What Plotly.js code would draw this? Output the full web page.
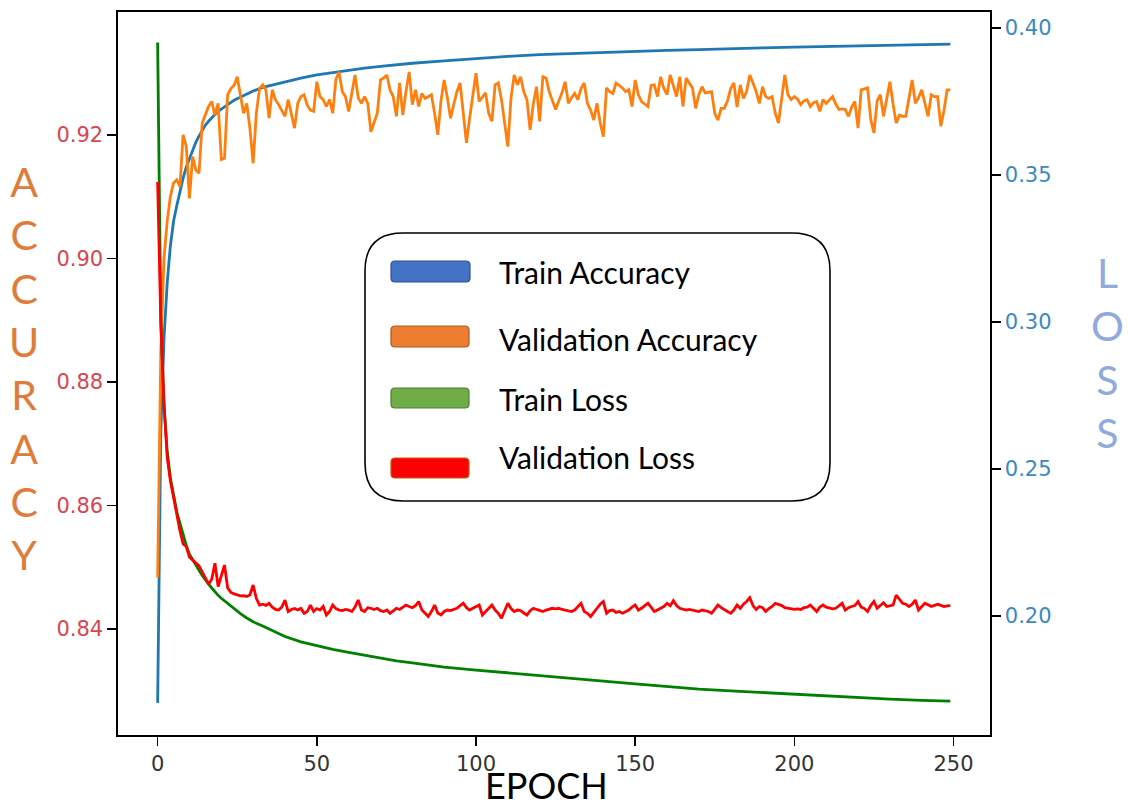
<!DOCTYPE html>
<html>
<head>
<meta charset="utf-8">
<script src="https://cdn.plot.ly/plotly-3.0.1.min.js"></script>
<style>html,body{margin:0;padding:0;background:#fff;}#chart{width:1128px;height:808px;}</style>
</head>
<body>
<div id="chart"></div>
<script>
// ---------------- DATA ----------------
const xTicks = [0, 50, 100, 150, 200, 250];
const accTicks = [0.84, 0.86, 0.88, 0.90, 0.92];
const lossTicks = [0.20, 0.25, 0.30, 0.35, 0.40];

const seriesNames = ["Train Accuracy", "Validation Accuracy", "Train Loss", "Validation Loss"];

// epochs at which the smooth training curves were read
const trainEpochs = [0,1,2,3,4,5,6,7,8,9,10,11,12,13,14,15,16,17,18,19,20,
  22,24,26,28,30,33,36,40,45,50,55,60,65,70,75,80,
  90,100,110,120,130,140,150,160,170,180,190,200,210,220,230,240,249];

const trainAcc = [0.828,0.872,0.887,0.896,0.902,0.906,0.9085,0.911,0.913,0.9148,0.9162,0.9175,0.9188,0.9198,0.9208,0.9216,0.9222,0.9228,0.9233,0.9238,0.9242,
  0.9249,0.9256,0.9261,0.9266,0.9271,0.9277,0.9281,0.9286,0.9292,0.9297,0.9301,0.9305,0.9308,0.9311,0.9314,0.9316,
  0.9320,0.9324,0.9327,0.9330,0.9332,0.9334,0.9336,0.9337,0.9338,0.9340,0.9341,0.9342,0.9343,0.9344,0.9345,0.9346,0.9347];

const trainLoss = [0.395,0.300,0.272,0.256,0.247,0.2405,0.2355,0.2316,0.2275,0.2240,0.2210,0.2190,0.2172,0.2155,0.2138,0.2122,0.2108,0.2095,0.2082,0.2070,0.2060,
  0.2042,0.2026,0.2008,0.1993,0.1980,0.1966,0.1950,0.1930,0.1912,0.1898,0.1886,0.1876,0.1866,0.1856,0.1847,0.1840,
  0.1826,0.1816,0.1806,0.1796,0.1787,0.1778,0.1769,0.1759,0.1751,0.1745,0.1739,0.1734,0.1728,0.1722,0.1717,0.1713,0.1710];

// validation curves, one value per epoch 0..249
const valAcc = [
  0.8483,0.885,0.900,0.906,0.910,0.9122,0.9127,0.9116,0.9200,0.9181,
  0.9097,0.9165,0.9143,0.9138,0.9219,0.9232,0.9246,0.9254,0.9232,0.9251,
  0.9160,0.9162,0.9265,0.9275,0.9280,0.9294,0.9267,0.9235,0.9251,0.9210,
  0.9154,0.9235,0.9275,0.9281,0.9273,0.9227,0.9273,0.9257,0.9249,0.9240,
  0.9230,0.9257,0.9235,0.9211,0.9251,0.9262,0.9265,0.9248,0.9240,0.9238,
  0.9286,0.9262,0.9257,0.9246,0.9257,0.9235,0.9290,0.9302,0.9270,0.9262,
  0.9238,0.9265,0.9297,0.9260,0.9251,0.9262,0.9251,0.9205,0.9222,0.9235,
  0.9289,0.9292,0.9297,0.9273,0.9262,0.9230,0.9284,0.9232,0.9270,0.9302,
  0.9249,0.9273,0.9246,0.9267,0.9259,0.9262,0.9265,0.9235,0.9200,0.9255,
  0.9289,0.9260,0.9227,0.9249,0.9270,0.9284,0.9230,0.9187,0.9227,0.9260,
  0.9300,0.9254,0.9262,0.9268,0.9235,0.9222,0.9281,0.9284,0.9257,0.9220,
  0.9181,0.9260,0.9297,0.9281,0.9294,0.9270,0.9257,0.9208,0.9250,0.9278,
  0.9222,0.9294,0.9292,0.9270,0.9257,0.9241,0.9255,0.9268,0.9286,0.9251,
  0.9260,0.9267,0.9257,0.9275,0.9284,0.9251,0.9240,0.9224,0.9251,0.9220,
  0.9197,0.9276,0.9270,0.9267,0.9284,0.9280,0.9276,0.9270,0.9273,0.9246,
  0.9289,0.9265,0.9254,0.9250,0.9246,0.9280,0.9281,0.9262,0.9294,0.9275,
  0.9265,0.9297,0.9280,0.9262,0.9294,0.9246,0.9292,0.9285,0.9276,0.9243,
  0.9265,0.9278,0.9268,0.9269,0.9270,0.9235,0.9224,0.9243,0.9243,0.9255,
  0.9275,0.9284,0.9245,0.9281,0.9259,0.9270,0.9297,0.9284,0.9270,0.9251,
  0.9278,0.9262,0.9259,0.9262,0.9235,0.9219,0.9260,0.9297,0.9265,0.9257,
  0.9262,0.9258,0.9249,0.9255,0.9257,0.9246,0.9252,0.9254,0.9238,0.9257,
  0.9251,0.9256,0.9262,0.9250,0.9241,0.9242,0.9241,0.9230,0.9245,0.9254,
  0.9211,0.9273,0.9275,0.9276,0.9225,0.9203,0.9255,0.9265,0.9230,0.9260,
  0.9286,0.9250,0.9219,0.9232,0.9230,0.9230,0.9260,0.9289,0.9251,0.9260,
  0.9273,0.9250,0.9230,0.9265,0.9262,0.9262,0.9214,0.9240,0.9273,0.9273];

const valLoss = [
  0.3476,0.300,0.272,0.254,0.246,0.240,0.234,0.229,0.2245,0.2236,
  0.2200,0.2190,0.2182,0.2170,0.2150,0.2128,0.2108,0.2125,0.2179,0.2100,
  0.2140,0.2173,0.2095,0.2080,0.2075,0.2072,0.2068,0.2069,0.2066,0.2072,
  0.2105,0.2060,0.2037,0.2040,0.2036,0.2043,0.2030,0.2022,0.2020,0.2030,
  0.2054,0.2015,0.2022,0.2025,0.2020,0.2026,0.2009,0.2015,0.2037,0.2015,
  0.2025,0.2020,0.2032,0.2003,0.2015,0.2037,0.2025,0.2020,0.2018,0.2022,
  0.2020,0.2015,0.2030,0.2054,0.2020,0.2015,0.2028,0.2026,0.2022,0.2026,
  0.2018,0.2015,0.2020,0.2009,0.2018,0.2026,0.2022,0.2030,0.2037,0.2032,
  0.2028,0.2035,0.2049,0.2020,0.2010,0.1998,0.2015,0.2037,0.2010,0.2003,
  0.2015,0.2020,0.2018,0.2022,0.2026,0.2035,0.2043,0.2028,0.2020,0.2026,
  0.2032,0.2037,0.2003,0.2015,0.2026,0.2037,0.2020,0.2009,0.1992,0.2020,
  0.2043,0.2025,0.2015,0.2020,0.2018,0.2010,0.2003,0.2018,0.2026,0.2022,
  0.2018,0.2015,0.2020,0.2022,0.2026,0.2024,0.2026,0.2022,0.2020,0.2018,
  0.2015,0.2020,0.2032,0.2043,0.2015,0.2009,0.1998,0.2012,0.2026,0.2040,
  0.2049,0.2009,0.2018,0.2020,0.2012,0.2015,0.2009,0.2015,0.2020,0.2030,
  0.2037,0.2020,0.2026,0.2035,0.2043,0.2030,0.2015,0.2020,0.2026,0.2032,
  0.2043,0.2035,0.2052,0.2035,0.2026,0.2022,0.2020,0.2022,0.2020,0.2018,
  0.2015,0.2020,0.2018,0.2015,0.2009,0.2025,0.2037,0.2028,0.2020,0.2015,
  0.2009,0.2020,0.2037,0.2026,0.2040,0.2049,0.2062,0.2035,0.2022,0.2032,
  0.2028,0.2015,0.2025,0.2032,0.2043,0.2040,0.2035,0.2028,0.2026,0.2024,
  0.2022,0.2024,0.2022,0.2028,0.2030,0.2037,0.2025,0.2015,0.2030,0.2037,
  0.2030,0.2028,0.2024,0.2026,0.2035,0.2043,0.2020,0.2028,0.2032,0.2035,
  0.2049,0.2030,0.2025,0.2015,0.2035,0.2049,0.2026,0.2035,0.2045,0.2032,
  0.2035,0.2037,0.2071,0.2055,0.2043,0.2040,0.2032,0.2040,0.2054,0.2020,
  0.2030,0.2043,0.2038,0.2032,0.2036,0.2040,0.2036,0.2032,0.2034,0.2035];

const valEpochs = valAcc.map((_, i) => i);

// ---------------- STYLE / LAYOUT ----------------
const lineColors = ["#1f77b4", "#ff7f0e", "#008000", "#ff0000"];
const swatchFill = ["#4472C4", "#ED7D31", "#70AD47", "#FF0000"];
const swatchLine = ["#2F528F", "#AE5A21", "#507E32", "#C55A11"];

const L = 118, R = 990, T = 12, B = 735;
const px = x => (x - L) / (R - L);
const py = y => (B - y) / (B - T);

function roundRect(x0, y0, x1, y1, r) {
  const P = (x, y) => px(x).toFixed(5) + "," + py(y).toFixed(5);
  return "M" + P(x0 + r, y0) + " L" + P(x1 - r, y0) + " Q" + P(x1, y0) + " " + P(x1, y0 + r) +
    " L" + P(x1, y1 - r) + " Q" + P(x1, y1) + " " + P(x1 - r, y1) +
    " L" + P(x0 + r, y1) + " Q" + P(x0, y1) + " " + P(x0, y1 - r) +
    " L" + P(x0, y0 + r) + " Q" + P(x0, y0) + " " + P(x0 + r, y0) + " Z";
}

const LW = 2.8;
const traces = [
  {x: trainEpochs, y: trainAcc, name: seriesNames[0], yaxis: "y", line: {color: lineColors[0], width: LW}},
  {x: valEpochs, y: valAcc, name: seriesNames[1], yaxis: "y", line: {color: lineColors[1], width: LW}},
  {x: trainEpochs, y: trainLoss, name: seriesNames[2], yaxis: "y2", line: {color: lineColors[2], width: LW}},
  {x: valEpochs, y: valLoss, name: seriesNames[3], yaxis: "y2", line: {color: lineColors[3], width: LW}}
].map(t => Object.assign({type: "scatter", mode: "lines", showlegend: false, hoverinfo: "skip"}, t));

// custom legend box (rounded)
const legendBox = [365, 233, 830, 501];
const swatchRows = [[391, 261, 470, 282], [391, 326, 469, 347], [391, 388, 469, 408], [391, 458, 469, 478]];
const legendTextY = [272, 339, 399, 457];

const shapes = [{
  type: "path", xref: "paper", yref: "paper",
  path: roundRect(legendBox[0], legendBox[1], legendBox[2], legendBox[3], 38),
  line: {color: "#000", width: 1.6}, fillcolor: "rgba(255,255,255,1)", layer: "above"
}];
swatchRows.forEach((s, i) => shapes.push({
  type: "path", xref: "paper", yref: "paper",
  path: roundRect(s[0], s[1], s[2], s[3], 4),
  line: {color: swatchLine[i], width: 1.2}, fillcolor: swatchFill[i], layer: "above"
}));

const annotations = [];
seriesNames.forEach((n, i) => annotations.push({
  xref: "paper", yref: "paper", x: px(497), y: py(legendTextY[i]),
  xanchor: "left", yanchor: "middle", showarrow: false, text: n,
  font: {family: "Lato, 'Open Sans', sans-serif", size: 30, color: "#000"}
}));
annotations.push({
  xref: "paper", yref: "paper", x: px(24), y: py(368), xanchor: "center", yanchor: "middle",
  showarrow: false, text: "A<br>C<br>C<br>U<br>R<br>A<br>C<br>Y",
  font: {family: "Lato, 'Open Sans', sans-serif", size: 41, color: "#E07B39"}
});
annotations.push({
  xref: "paper", yref: "paper", x: px(1107), y: py(352), xanchor: "center", yanchor: "middle",
  showarrow: false, text: "L<br>O<br>S<br>S",
  font: {family: "Lato, 'Open Sans', sans-serif", size: 41, color: "#8FAADC"}
});
annotations.push({
  xref: "paper", yref: "paper", x: px(546), y: py(808), xanchor: "center", yanchor: "bottom",
  showarrow: false, text: "EPOCH", borderpad: 0,
  font: {family: "Lato, 'Open Sans', sans-serif", size: 36, color: "#000"}
});

const axisCommon = {
  showline: true, linecolor: "#000", linewidth: 1.6,
  ticks: "outside", ticklen: 9, tickwidth: 1.5, tickcolor: "#000",
  showgrid: false, zeroline: false, fixedrange: true
};

const layout = {
  width: 1128, height: 808,
  margin: {l: L, r: 1128 - R, t: T, b: 808 - B, autoexpand: false},
  paper_bgcolor: "#fff", plot_bgcolor: "#fff",
  showlegend: false,
  xaxis: Object.assign({}, axisCommon, {
    range: [-12.45, 261.45], tickvals: xTicks, ticktext: xTicks.map(String), mirror: true,
    tickfont: {family: "DejaVu Sans", size: 21, color: "#333"}
  }),
  yaxis: Object.assign({}, axisCommon, {
    range: [0.8228, 0.9399], tickvals: accTicks, ticktext: accTicks.map(v => v.toFixed(2)),
    tickfont: {family: "DejaVu Sans", size: 21, color: "#D9454F"}
  }),
  yaxis2: Object.assign({}, axisCommon, {
    overlaying: "y", side: "right",
    range: [0.1595, 0.4054], tickvals: lossTicks, ticktext: lossTicks.map(v => v.toFixed(2)),
    tickfont: {family: "DejaVu Sans", size: 21, color: "#3A89C0"}
  }),
  shapes: shapes,
  annotations: annotations
};

Plotly.newPlot("chart", traces, layout, {displayModeBar: false, staticPlot: true});
</script>
</body>
</html>
